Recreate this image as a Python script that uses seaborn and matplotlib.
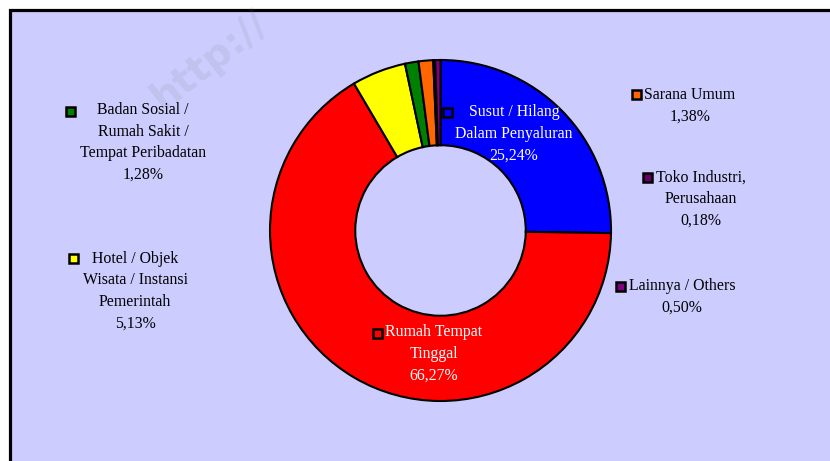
import matplotlib
matplotlib.use("Agg")
import matplotlib.pyplot as plt
import seaborn as sns
from matplotlib.patches import Rectangle

# data penjualan per kelompok pelanggan (urut searah jarum jam dari atas)
kategori = [
    "Susut / Hilang\nDalam Penyaluran",
    "Rumah Tempat\nTinggal",
    "Hotel / Objek\nWisata / Instansi\nPemerintah",
    "Badan Sosial /\nRumah Sakit /\nTempat Peribadatan",
    "Sarana Umum",
    "Toko Industri,\nPerusahaan",
    "Lainnya / Others",
]
persen = [25.24, 66.27, 5.13, 1.28, 1.38, 0.18, 0.50]
warna = ["#0000FF", "#FF0000", "#FFFF00", "#008000", "#FF6600", "#660066", "#800080"]

# posisi label dalam piksel: (x tengah teks, y tengah blok, x kotak, y kotak, warna teks)
posisi_label = [
    (514, 134, 447, 112, "white"),
    (434, 354, 377, 333, "white"),
    (135, 291, 73, 258, "black"),
    (143, 142.5, 70, 111, "black"),
    (690, 106, 636, 95, "black"),
    (701, 199, 647, 177, "black"),
    (682, 297, 620, 286, "black"),
]

W, H = 830, 461

sns.set_theme(style="white")
plt.rcParams["font.family"] = ["Liberation Serif", "DejaVu Serif"]

fig = plt.figure(figsize=(W / 100, H / 100), dpi=100)
fig.patch.set_facecolor("white")

# latar belakang area grafik
bg = fig.add_axes([0, 0, 1, 1])
bg.set_xlim(0, W)
bg.set_ylim(H, 0)
bg.axis("off")
bg.add_patch(Rectangle((9.5, 10.5), W + 20, H + 20, facecolor="#CCCCFF",
                       edgecolor="black", linewidth=2.3))

# donat
cx, cy, r = 440.5, 230.5, 170.5
ax = fig.add_axes([(cx - r) / W, (H - cy - r) / H, 2 * r / W, 2 * r / H])
ax.pie(persen, colors=warna, startangle=90, counterclock=False, radius=1,
       wedgeprops=dict(width=0.5, edgecolor="black", linewidth=1.5))
ax.set_xlim(-1, 1)
ax.set_ylim(-1, 1)
ax.axis("off")

# label dan kotak legenda
ov = fig.add_axes([0, 0, 1, 1])
ov.set_xlim(0, W)
ov.set_ylim(H, 0)
ov.axis("off")
ov.patch.set_alpha(0)

# watermark (di bawah label)
ov.text(210, 60, "http://", rotation=38, ha="center", va="center",
        fontsize=28, fontweight="bold", family="DejaVu Sans",
        color="#777777", alpha=0.12, zorder=1)

for nama, nilai, c, (tx, ty, mx, my, tc) in zip(kategori, persen, warna, posisi_label):
    teks = nama + "\n" + f"{nilai:.2f}".replace(".", ",") + "%"
    ov.text(tx, ty, teks, ha="center", va="center", multialignment="center",
            fontsize=11.4, color=tc, linespacing=1.46, zorder=3)
    ov.add_patch(Rectangle((mx - 4.5, my - 4.5), 9, 9, facecolor=c,
                           edgecolor="black", linewidth=1.8, zorder=3))

fig.savefig("out.png", dpi=100)
